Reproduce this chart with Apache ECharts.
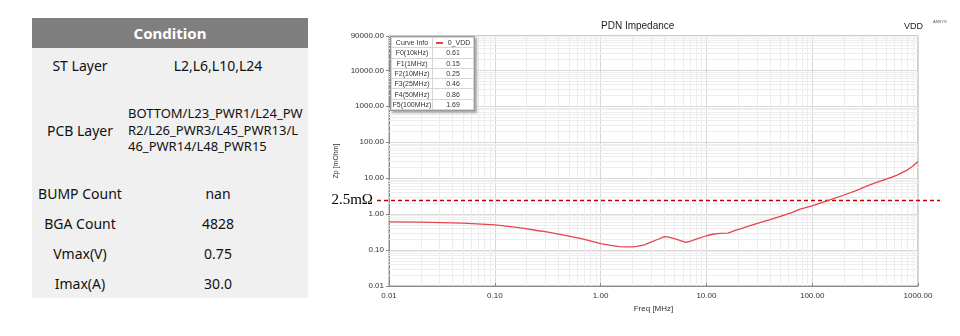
<!DOCTYPE html>
<html><head><meta charset="utf-8">
<script src="https://cdn.jsdelivr.net/npm/echarts@6/dist/echarts.min.js"></script>
<style>
html,body{margin:0;padding:0;background:#fff;}
#wrap{position:relative;width:960px;height:336px;overflow:hidden;background:#fff;}
#chart{position:absolute;left:0;top:0;width:960px;height:336px;}
#cond{position:absolute;left:32px;top:18px;width:276px;font-family:'Noto Sans','Open Sans',sans-serif;color:#111;background:#f0f0f0;}
#cond .hd{height:30px;line-height:30px;background:#7f7f7f;color:#fff;font-weight:bold;font-size:15px;text-align:center;}
#cond .row{display:flex;align-items:center;}
#cond .k{width:96px;text-align:center;font-size:14px;}
#cond .v{width:180px;text-align:center;font-size:14px;}
#cond .v.multi{text-align:left;font-size:13px;line-height:16.5px;}
#info{position:absolute;left:390px;top:36px;width:83px;background:#fff;border:1px solid #9a9a9a;box-shadow:2px 2px 2px #aaa;font-family:'Liberation Sans',Arial,sans-serif;font-size:7px;color:#333;}
#info table{border-collapse:collapse;width:100%;}
#info td{border:1px solid #d6d6d6;height:9.3px;padding:0;text-align:center;line-height:9px;}
#info td.l{width:40px;}
#info .sw{display:inline-block;width:7px;height:2px;background:#e5464e;vertical-align:middle;margin-right:5px;}
</style></head>
<body>
<div id="wrap">
<div id="chart"></div>
<div id="cond"></div>
<div id="info"></div>
</div>
<script>
// ---- data ----
const condLabels = ['ST Layer', 'PCB Layer', 'BUMP Count', 'BGA Count', 'Vmax(V)', 'Imax(A)'];
const condValues = ['L2,L6,L10,L24', 'BOTTOM/L23_PWR1/L24_PWR2/L26_PWR3/L45_PWR13/L46_PWR14/L48_PWR15', 'nan', '4828', '0.75', '30.0'];
const pcbLines = ['BOTTOM/L23_PWR1/L24_PW', 'R2/L26_PWR3/L45_PWR13/L', '46_PWR14/L48_PWR15'];
const rowHeights = [34, 96, 30, 30, 30, 30];

const markerNames = ['F0(10kHz)', 'F1(1MHz)', 'F2(10MHz)', 'F3(25MHz)', 'F4(50MHz)', 'F5(100MHz)'];
const markerValues = ['0.61', '0.15', '0.25', '0.46', '0.86', '1.69'];
const curveName = '0_VDD';

const freqMHz = [0.01, 0.02, 0.05, 0.1, 0.14, 0.19, 0.25, 0.31, 0.45, 0.64, 0.8, 1.0, 1.25, 1.5, 1.75, 2.0, 2.2, 2.6, 2.9, 3.5, 4.0, 4.4, 4.9, 5.6, 6.4, 7.2, 8.0, 10, 11.5, 13.4, 16, 19, 22, 25, 32, 40, 50, 63, 77, 100, 147, 200, 260, 327, 400, 500, 628, 781, 900, 1000];
const zpMOhm  = [0.61, 0.60, 0.56, 0.50, 0.45, 0.40, 0.35, 0.32, 0.26, 0.21, 0.18, 0.15, 0.135, 0.125, 0.122, 0.123, 0.127, 0.14, 0.16, 0.20, 0.236, 0.23, 0.21, 0.185, 0.163, 0.18, 0.20, 0.25, 0.275, 0.29, 0.295, 0.36, 0.41, 0.46, 0.58, 0.70, 0.86, 1.08, 1.38, 1.69, 2.47, 3.4, 4.5, 6.0, 7.5, 9.4, 11.9, 16.4, 22, 29];

const limitValue = 2.5;
const limitLabel = '2.5mΩ';

const xDecades = [0.01, 0.1, 1, 10, 100];
const yDecades = [0.01, 0.1, 1, 10, 100, 1000, 10000];
const minorSteps = [2, 3, 4, 5, 6, 7, 8, 9];

// ---- condition table ----
const cond = document.getElementById('cond');
let html = '<div class="hd">Condition</div>';
condLabels.forEach((k, i) => {
  let v = condValues[i];
  let cls = 'v';
  if (k === 'PCB Layer') { v = pcbLines.join('<br>'); cls = 'v multi'; }
  html += '<div class="row" style="height:' + rowHeights[i] + 'px"><div class="k">' + k + '</div><div class="' + cls + '">' + v + '</div></div>';
});
cond.innerHTML = html;

// ---- info box ----
let t = '<table><tr><td class="l">Curve Info</td><td><span class="sw"></span>' + curveName + '</td></tr>';
markerNames.forEach((n, i) => { t += '<tr><td class="l">' + n + '</td><td>' + markerValues[i] + '</td></tr>'; });
t += '</table>';
document.getElementById('info').innerHTML = t;

// ---- chart ----
const xMinor = [], yMinor = [];
xDecades.forEach(d => minorSteps.forEach(m => xMinor.push(+(d * m).toPrecision(3))));
yDecades.forEach(d => minorSteps.forEach(m => yMinor.push(+(d * m).toPrecision(3))));

const font = 'Liberation Sans';
const chart = echarts.init(document.getElementById('chart'), null, {renderer: 'canvas'});
chart.setOption({
  animation: false,
  backgroundColor: 'transparent',
  title: [
    {text: 'PDN Impedance', left: 601, top: 21, padding: 0, textStyle: {fontSize: 10, fontWeight: 'normal', color: '#222', fontFamily: font}},
    {text: 'VDD', left: 904, top: 22, padding: 0, textStyle: {fontSize: 9, fontWeight: 'normal', color: '#222', fontFamily: font}},
    {text: 'ANSYS', left: 933, top: 20, padding: 0, textStyle: {fontSize: 4, fontWeight: 'normal', color: '#555', fontFamily: font}}
  ],
  grid: [
    {left: 389, right: 42, top: 36, bottom: 50, show: true, borderColor: '#9a9a9a', borderWidth: 1},
    {left: 377, right: 20, top: 36, bottom: 50}
  ],
  xAxis: [
    {type: 'log', gridIndex: 0, min: 0.01, max: 1000,
     name: 'Freq [MHz]', nameLocation: 'middle', nameGap: 19,
     nameTextStyle: {fontSize: 8, color: '#333', fontFamily: font},
     axisLine: {lineStyle: {color: '#888'}},
     axisTick: {show: true, inside: true, length: 3, lineStyle: {color: '#888'}},
     axisLabel: {fontSize: 8, color: '#333', fontFamily: font, margin: 6, formatter: v => v.toFixed(2)},
     splitLine: {show: true, lineStyle: {color: '#d8d8d8'}}},
    {type: 'value', gridIndex: 1, min: 0, max: 1, show: false}
  ],
  yAxis: [
    {type: 'log', gridIndex: 0, min: 0.01, max: 90000,
     name: 'Zp [mOhm]', nameLocation: 'middle', nameGap: 38,
     nameTextStyle: {fontSize: 7, color: '#333', fontFamily: font},
     axisLine: {show: true, lineStyle: {color: '#888'}},
     axisTick: {show: true, inside: false, length: 3, lineStyle: {color: '#888'}},
     axisLabel: {fontSize: 8, color: '#333', fontFamily: font, margin: 5, formatter: v => v.toFixed(2)},
     splitLine: {show: true, lineStyle: {color: '#d8d8d8'}}},
    {type: 'log', gridIndex: 1, min: 0.01, max: 90000, show: false}
  ],
  series: [
    {type: 'line', name: 'grid', xAxisIndex: 0, yAxisIndex: 0, z: 1, silent: true,
     data: [], symbol: 'none',
     markLine: {silent: true, symbol: ['none', 'none'], animation: false,
       label: {show: false},
       lineStyle: {color: '#ededed', type: 'solid', width: 1},
       emphasis: {disabled: true},
       data: xMinor.map(v => ({xAxis: v})).concat(yMinor.map(v => ({yAxis: v})))}},
    {type: 'line', name: curveName, xAxisIndex: 0, yAxisIndex: 0, z: 5,
     data: freqMHz.map((f, i) => [f, zpMOhm[i]]),
     symbol: 'none', smooth: false,
     lineStyle: {color: '#e5464e', width: 1.3}},
    {type: 'line', name: 'limit', xAxisIndex: 1, yAxisIndex: 1, z: 6,
     data: [], symbol: 'none',
     markLine: {silent: true, symbol: ['none', 'none'], animation: false,
       lineStyle: {color: '#c00000', type: [4, 3], width: 1.3},
       label: {show: true, position: 'start', distance: 4, formatter: limitLabel,
               fontFamily: 'Liberation Serif', fontSize: 15, color: '#000'},
       emphasis: {disabled: true},
       data: [{yAxis: limitValue}]}}
  ]
});
</script>
</body></html>
